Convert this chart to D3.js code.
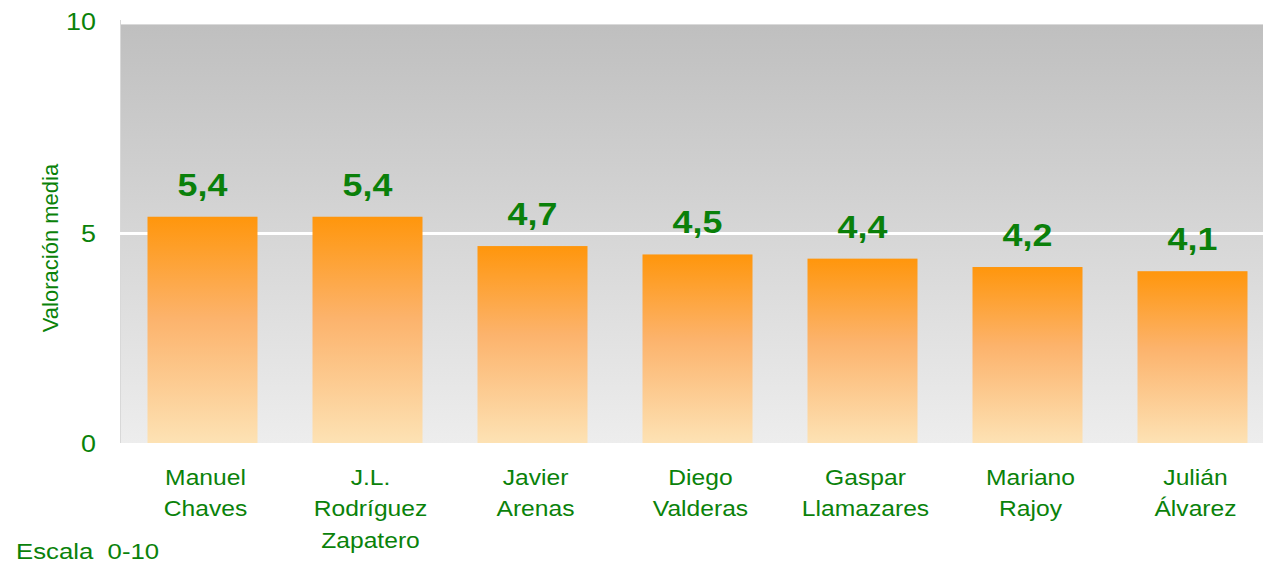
<!DOCTYPE html>
<html>
<head>
<meta charset="utf-8">
<script src="https://cdn.jsdelivr.net/npm/d3@7"></script>
<style>
  html, body { margin: 0; padding: 0; background: #fff; }
  svg { display: block; }
  text { font-family: Arial, "Liberation Sans", sans-serif; }
</style>
</head>
<body>
<svg id="chart" width="1263" height="565"></svg>
<script>
// Leaders' average rating (scale 0-10)
const categories = [
  ["Manuel", "Chaves"],
  ["J.L.", "Rodríguez", "Zapatero"],
  ["Javier", "Arenas"],
  ["Diego", "Valderas"],
  ["Gaspar", "Llamazares"],
  ["Mariano", "Rajoy"],
  ["Julián", "Álvarez"]
];
const values = [5.4, 5.4, 4.7, 4.5, 4.4, 4.2, 4.1];
const yTicks = [0, 5, 10];
const yTitle = "Valoración media";
const footnote = "Escala  0-10";

const svg = d3.select("#chart");
const plot = { left: 120, right: 1275, top: 24, bottom: 443 };
const green = "#0a820a";
const sx = 1.12; // horizontal text widening

const x = d3.scaleBand()
  .domain(d3.range(categories.length))
  .range([plot.left, plot.right])
  .paddingInner(1 / 3)
  .paddingOuter(1 / 6);

const y = d3.scaleLinear().domain([0, 10]).range([plot.bottom, plot.top]);

const defs = svg.append("defs");
const bg = defs.append("linearGradient").attr("id", "bgGrad")
  .attr("x1", 0).attr("y1", 0).attr("x2", 0).attr("y2", 1);
bg.append("stop").attr("offset", 0).attr("stop-color", "#bfbfbf");
bg.append("stop").attr("offset", 1).attr("stop-color", "#ededed");

const barGrad = defs.append("linearGradient").attr("id", "barGrad")
  .attr("x1", 0).attr("y1", 0).attr("x2", 0).attr("y2", 1);
barGrad.append("stop").attr("offset", 0).attr("stop-color", "#ff960c");
barGrad.append("stop").attr("offset", 0.45).attr("stop-color", "#fcb36c");
barGrad.append("stop").attr("offset", 1).attr("stop-color", "#fde2b4");

// Plot background
svg.append("rect")
  .attr("x", plot.left).attr("y", y(10))
  .attr("width", plot.right - plot.left).attr("height", y(0) - y(10))
  .attr("fill", "url(#bgGrad)");

svg.append("line")
  .attr("x1", plot.left).attr("x2", plot.right)
  .attr("y1", y(10) + 0.5).attr("y2", y(10) + 0.5)
  .attr("stroke", "#dadada").attr("stroke-width", 1);

svg.append("line")
  .attr("x1", plot.left + 0.5).attr("x2", plot.left + 0.5)
  .attr("y1", y(10) - 4).attr("y2", y(0))
  .attr("stroke", "#d8d8d8").attr("stroke-width", 1);

// Gridline at 5
svg.append("g").selectAll("line")
  .data(yTicks.filter(t => t > 0 && t < 10))
  .join("line")
  .attr("x1", plot.left).attr("x2", plot.right)
  .attr("y1", d => y(d)).attr("y2", d => y(d))
  .attr("stroke", "#ffffff").attr("stroke-width", 3);

// Y tick labels
svg.append("g").selectAll("text")
  .data(yTicks)
  .join("text")
  .attr("transform", d => `translate(96,${y(d) + (d === 10 ? -3 : 0)}) scale(${sx},1)`)
  .attr("dy", "0.36em")
  .attr("text-anchor", "end")
  .attr("font-size", 24)
  .attr("fill", green)
  .text(d => d);

// Y axis title
svg.append("text")
  .attr("transform", `translate(58,248) rotate(-90)`)
  .attr("text-anchor", "middle")
  .attr("font-size", 22)
  .attr("fill", green)
  .text(yTitle);

// Bars
svg.append("g").selectAll("rect")
  .data(values)
  .join("rect")
  .attr("x", (d, i) => x(i))
  .attr("y", d => y(d))
  .attr("width", x.bandwidth())
  .attr("height", d => y(0) - y(d))
  .attr("fill", "url(#barGrad)");

// Value labels
const fmt = v => d3.format(".1f")(v).replace(".", ",");
svg.append("g").selectAll("text")
  .data(values)
  .join("text")
  .attr("transform", (d, i) => `translate(${x(i) + x.bandwidth() / 2},${y(d) - 21}) scale(${sx},1)`)
  .attr("text-anchor", "middle")
  .attr("font-size", 32)
  .attr("font-weight", "bold")
  .attr("fill", "#0a800a")
  .text(d => fmt(d));

// Category labels
const cat = svg.append("g").selectAll("text")
  .data(categories)
  .join("text")
  .attr("transform", (d, i) => `translate(${x(i) + x.bandwidth() / 2 + 3},485) scale(${sx},1)`)
  .attr("text-anchor", "middle")
  .attr("font-size", 22)
  .attr("fill", green);
cat.selectAll("tspan")
  .data(d => d)
  .join("tspan")
  .attr("x", 0)
  .attr("y", (d, j) => j * 31.5)
  .text(d => d);

// Footnote
svg.append("text")
  .attr("transform", `translate(16,559) scale(${sx},1)`)
  .attr("font-size", 23)
  .attr("fill", green)
  .style("white-space", "pre")
  .text(footnote);
</script>
</body>
</html>
